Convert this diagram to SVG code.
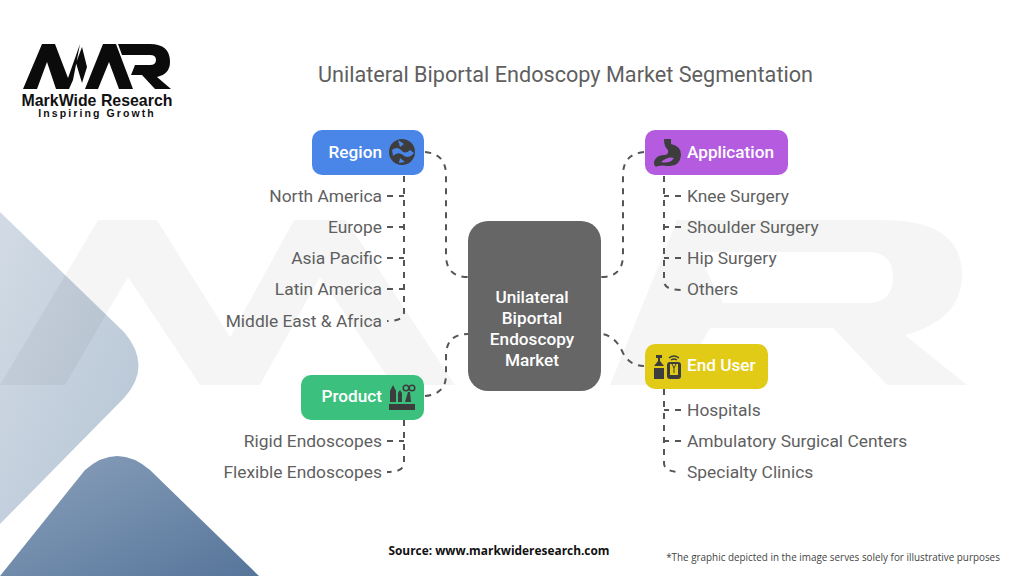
<svg xmlns="http://www.w3.org/2000/svg" width="1024" height="576" viewBox="0 0 1024 576">
<style>
text{font-family:Roboto,"Liberation Sans",sans-serif}
.t{font-size:17.4px;fill:#5f5f5f}
.e{text-anchor:end}
.n{font-size:17.2px;font-weight:500;fill:#fff}
.m{text-anchor:middle}
.c{fill:none;stroke:#555;stroke-width:2;stroke-dasharray:6 6}
.ic{fill:#3d3d3d}
.wm{fill:#000;fill-opacity:.04}
</style>
<defs>
<linearGradient id="a" x1="0" y1="0" x2="1" y2="1"><stop offset="0" stop-color="#d2dbe5"/><stop offset="1" stop-color="#b5c4d4"/></linearGradient>
<linearGradient id="b" x1="0" y1="0" x2="1" y2="1"><stop offset="0" stop-color="#8ba1bc"/><stop offset="1" stop-color="#56759a"/></linearGradient>
</defs>
<rect width="1024" height="576" fill="#fff"/>
<g id="background">
<path d="M0 212L124 332Q153 366 124 398L0 524Z" fill="url(#a)"/>
<path d="M0 576L85 470Q117 442 150 470L259 576Z" fill="url(#b)"/>
<path class="wm" d="M0 385H65L128 277L200 385H260L320 277L393 385H455L346 220H294L230 337L157 220H98Z"/>
<path class="wm" fill-rule="evenodd" d="M610 385H677L710 328H833L887 385H967L905 335Q962 320 962 275Q962 220 883 220H677ZM697 252H870Q893 254 893 277Q893 301 870 303H723Z"/>
</g>
<g id="logo">
<path fill="#0b0b0b" d="M23 89L42 44H55L68 78L80 44L73 80L69 89H56L47 62L37 89ZM82 47L87 67L82 83L76 63ZM85 89L103 44H116L133 89H119L109 62L98 89ZM118 44H150Q170 44 170 62Q170 74 157 77L171 89H155L142 75H131L135 65H150Q156 65 156 60Q156 55 150 55H122Z"/>
<text x="97" y="106" class="m" style="font-family:'Liberation Sans',sans-serif;font-size:15.9px;font-weight:700" fill="#111">MarkWide Research</text>
<text x="97" y="117" class="m" style="font-family:'Liberation Sans',sans-serif;font-size:10.5px;font-weight:700;letter-spacing:2.1px" fill="#111">Inspiring Growth</text>
</g>
<text id="title" x="565.500" y="82" class="m" style="font-size:21.650px" fill="#5f5f5f">Unilateral Biportal Endoscopy Market Segmentation</text>
<g id="connectors">
<path class="c" d="M425 152Q446 154 446 175V255Q446 277 468 277"/>
<path class="c" d="M425 396Q446 394 446 375V356Q446 334 468 334"/>
<path class="c" d="M644 152Q623 154 623 175V255Q623 277 601 277"/>
<path class="c" d="M644 366Q630 366 623 353Q615 335 601 334"/>
<path class="c" d="M404 176V312Q404 321 387 321"/>
<path class="c" d="M387 196H404M387 227H404M387 258H404M387 289H404"/>
<path class="c" d="M404 420V463Q404 472 387 472"/>
<path class="c" d="M387 441H404"/>
<path class="c" d="M664 176V281Q664 290 681 290"/>
<path class="c" d="M681 196H664M681 227H664M681 258H664"/>
<path class="c" d="M664 389V463Q664 472 681 472"/>
<path class="c" d="M681 410H664M681 441H664"/>
</g>
<g id="center"><rect x="468" y="221" width="133" height="170" rx="20" fill="#666"/>
<text x="532" y="303" class="n m">Unilateral</text>
<text x="532" y="324" class="n m">Biportal</text>
<text x="532" y="345" class="n m">Endoscopy</text>
<text x="532" y="366" class="n m">Market</text></g>
<g id="region"><rect x="312" y="130" width="112" height="45" rx="10" fill="#4a86e8"/>
<text x="382" y="158" class="n e">Region</text>
<circle cx="402" cy="152" r="13" class="ic"/><path d="M392 150Q397 146 401 150Q405 155 410 150L414 153Q408 160 403 155Q398 151 393 156Z" fill="#4a86e8"/><path d="M398 140L404 144L400 147ZM400 158L405 162L399 163Z" fill="#4a86e8"/></g>
<g id="region-items">
<text x="382" y="202" class="t e">North America</text><text x="382" y="233" class="t e">Europe</text><text x="382" y="264" class="t e">Asia Pacific</text><text x="382" y="295" class="t e">Latin America</text><text x="382" y="327" class="t e">Middle East &amp; Africa</text></g>
<g id="application"><rect x="645" y="130" width="143" height="45" rx="10" fill="#b45be0"/>
<text x="687" y="158" class="n">Application</text>
<path class="ic" d="M664 139H671V144Q681 146 681 155Q680 167 668 166Q662 165 658 166Q654 168 654 162Q656 155 664 155Q669 155 668 150Q664 147 664 139Z"/><path d="M661 162Q668 156 674 158Q670 164 661 162Z" fill="#b45be0"/></g>
<g id="application-items">
<text x="687" y="202" class="t">Knee Surgery</text><text x="687" y="233" class="t">Shoulder Surgery</text><text x="687" y="264" class="t">Hip Surgery</text><text x="687" y="295" class="t">Others</text></g>
<g id="product"><rect x="301" y="375" width="123" height="45" rx="10" fill="#3cc07e"/>
<text x="382" y="402" class="n e">Product</text>
<path class="ic" d="M389 404H415V410H389ZM390 402V391L393 385L396 391V402ZM398 402V393L400 390L402 393V402ZM405 402L408 392H410L411 402Z"/><circle cx="406" cy="388" r="2.800" fill="none" stroke="#3d3d3d" stroke-width="1.500"/><circle cx="412" cy="388" r="2.800" fill="none" stroke="#3d3d3d" stroke-width="1.500"/></g>
<g id="product-items">
<text x="382" y="446.500" class="t e">Rigid Endoscopes</text><text x="382" y="477.500" class="t e">Flexible Endoscopes</text></g>
<g id="enduser"><rect x="645" y="344" width="123" height="45" rx="10" fill="#e2cb16"/>
<text x="687" y="371" class="n">End User</text>
<path class="ic" d="M654 368H664V379H654ZM656 355H662V358H660V361L664 366H654L658 361V358H656Z"/><rect x="667" y="362" width="14" height="17" rx="3" class="ic"/><rect x="670" y="364" width="8" height="11" fill="#e2cb16"/><path d="M672 364L674 368L676 364M674 368V373" stroke="#3d3d3d" fill="none"/><path d="M669 358Q674 354 679 358M671 360Q674 358 677 360" stroke="#3d3d3d" stroke-width="1.500" fill="none"/></g>
<g id="enduser-items">
<text x="687" y="415.500" class="t">Hospitals</text><text x="687" y="446.500" class="t">Ambulatory Surgical Centers</text><text x="687" y="477.500" class="t">Specialty Clinics</text></g>
<text x="499" y="555" class="m" style="font-family:'Open Sans','Liberation Sans',sans-serif;font-size:11.900px;font-weight:700" fill="#111">Source: www.markwideresearch.com</text>
<text x="833" y="561" class="m" style="font-family:'Open Sans','Liberation Sans',sans-serif;font-size:9.900px" fill="#444">*The graphic depicted in the image serves solely for illustrative purposes</text>
</svg>
